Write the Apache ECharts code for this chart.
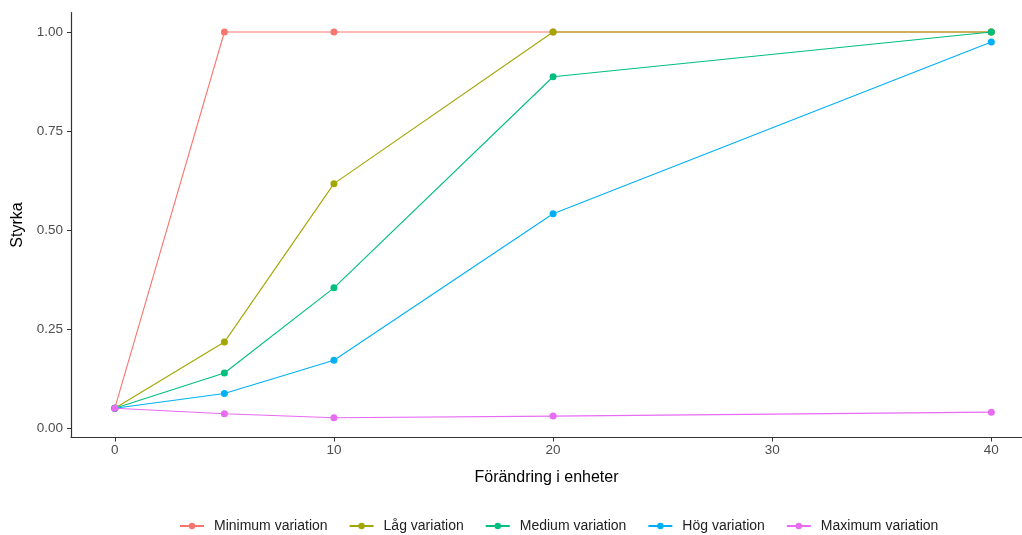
<!DOCTYPE html>
<html><head><meta charset="utf-8">
<script src="https://cdn.jsdelivr.net/npm/echarts@6/dist/echarts.min.js"></script>
<style>html,body{margin:0;padding:0;background:#fff}#c{width:1022px;height:535px}</style>
</head><body><div id="c"></div>
<script>
const xValues = [0, 5, 10, 20, 40];
const seriesNames = ["Minimum variation", "Låg variation", "Medium variation", "Hög variation", "Maximum variation"];
const minimumVar = [0.05, 1.0, 1.0, 1.0, 1.0];
const lagVar = [0.05, 0.217, 0.617, 1.0, 1.0];
const mediumVar = [0.05, 0.139, 0.354, 0.887, 1.0];
const hogVar = [0.05, 0.087, 0.171, 0.541, 0.975];
const maximumVar = [0.05, 0.036, 0.026, 0.03, 0.04];
const xTicks = [0, 10, 20, 30, 40];
const yTicks = [0, 0.25, 0.5, 0.75, 1.0];
const colors = ["#F8766D", "#A3A500", "#00BF7D", "#00B0F6", "#E76BF3"];
const allData = [minimumVar, lagVar, mediumVar, hogVar, maximumVar];

const chart = echarts.init(document.getElementById('c'));
const font = 'Liberation Sans, Arial, sans-serif';
chart.setOption({
  animation: false,
  color: colors,
  textStyle: {fontFamily: font},
  grid: {left: 71, right: 0, top: 12.6, bottom: 97.5, containLabel: false},
  xAxis: {
    type: 'value', min: -2, max: 41.4,
    name: 'Förändring i enheter', nameLocation: 'middle', nameGap: 32,
    nameTextStyle: {fontSize: 16, color: '#000', fontFamily: font},
    axisLine: {show: true, onZero: false, lineStyle: {color: '#333', width: 1.2}},
    axisTick: {show: true, customValues: xTicks, length: 4, lineStyle: {color: '#333'}},
    axisLabel: {customValues: xTicks, color: '#4D4D4D', fontSize: 13.5, margin: 6, fontFamily: font},
    splitLine: {show: false}
  },
  yAxis: {
    type: 'value', min: -0.024, max: 1.049,
    name: 'Styrka', nameLocation: 'middle', nameGap: 43, nameRotate: 90,
    nameTextStyle: {fontSize: 16, color: '#000', fontFamily: font},
    axisLine: {show: true, onZero: false, lineStyle: {color: '#333', width: 1.2}},
    axisTick: {show: true, customValues: yTicks, length: 4, lineStyle: {color: '#333'}},
    axisLabel: {customValues: yTicks, color: '#4D4D4D', fontSize: 13.5, margin: 8, fontFamily: font,
      formatter: v => v.toFixed(2)},
    splitLine: {show: false}
  },
  legend: {
    bottom: -3, left: 174, itemWidth: 24, itemHeight: 8, itemGap: 21,
    formatter: '{a|{name}}',
    textStyle: {fontSize: 14, color: '#222', fontFamily: font,
      rich: {a: {fontSize: 14, color: '#222', fontFamily: font, padding: [0, 0, 0, 5]}}},
    data: seriesNames
  },
  series: seriesNames.map((n, i) => ({
    name: n, type: 'line',
    data: xValues.map((x, j) => [x, allData[i][j]]),
    symbol: 'circle', symbolSize: 7,
    lineStyle: {width: 1.1, color: colors[i]},
    itemStyle: {color: colors[i]},
    z: 2 + i
  }))
});
</script></body></html>
